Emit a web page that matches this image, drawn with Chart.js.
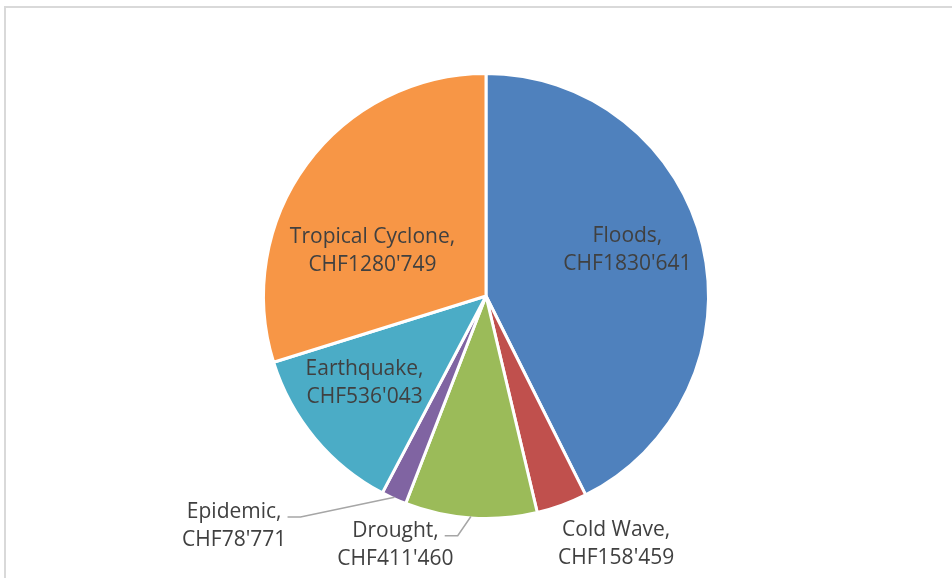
<!DOCTYPE html>
<html>
<head>
<meta charset="utf-8">
<script src="https://cdn.jsdelivr.net/npm/chart.js@4/dist/chart.umd.min.js"></script>
<style>
  html, body { margin: 0; padding: 0; background: #ffffff; }
  #wrap { position: relative; width: 952px; height: 578px; overflow: hidden; }
  #frame { position: absolute; left: 4px; top: 6px; width: 1000px; height: 700px;
           border-left: 2px solid #d9d9d9; border-top: 2px solid #d9d9d9; box-sizing: border-box; }
  canvas { position: absolute; left: 0; top: 0; }
</style>
</head>
<body>
<div id="wrap">
  <div id="frame"></div>
  <canvas id="c" width="952" height="578"></canvas>
</div>
<script>
// ---- data ----
const categories = ['Floods', 'Cold Wave', 'Drought', 'Epidemic', 'Earthquake', 'Tropical Cyclone'];
const values = [1830641, 158459, 411460, 78771, 536043, 1280749];
const currency = 'CHF';

// ---- style / layout ----
const sliceColors = ['#4F81BD', '#C0504D', '#9BBB59', '#8064A2', '#4BACC6', '#F79646'];
// label placement: angle clockwise from 12 o'clock (deg) and distance as fraction of radius
const labelAngle = [72, 152.3, 200, 227.6, 234.5, 291.5];
const labelDist = [0.673, 1.267, 1.198, 1.543, 0.675, 0.552];
const labelLeader = [false, false, true, true, false, false];

function fmt(v) {
  const th = Math.floor(v / 1000);
  const rest = String(v % 1000).padStart(3, '0');
  return currency + th + "'" + rest;
}

const labelPlugin = {
  id: 'pieLabels',
  afterDatasetsDraw(chart) {
    const ctx = chart.ctx;
    const meta = chart.getDatasetMeta(0);
    ctx.save();
    ctx.font = '21px "Open Sans"';
    ctx.fillStyle = '#404040';
    ctx.textAlign = 'center';
    ctx.textBaseline = 'middle';
    meta.data.forEach((arc, i) => {
      const p = arc.getProps(['x', 'y', 'startAngle', 'endAngle', 'outerRadius'], true);
      const r = p.outerRadius - 1.5;
      const th = labelAngle[i] * Math.PI / 180;
      const lx = p.x + Math.sin(th) * r * labelDist[i];
      const ly = p.y - Math.cos(th) * r * labelDist[i];
      const l1 = categories[i] + ',';
      const l2 = fmt(values[i]);
      ctx.fillText(l1, lx, ly - 14);
      ctx.fillText(l2, lx, ly + 14);
      if (labelLeader[i]) {
        const w1 = ctx.measureText(l1).width;
        const ex = lx + w1 / 2 + 6;
        const ey = ly - 9;
        const mid = (p.startAngle + p.endAngle) / 2;
        const sx = p.x + Math.cos(mid) * r;
        const sy = p.y + Math.sin(mid) * r;
        ctx.save();
        ctx.strokeStyle = '#a6a6a6';
        ctx.lineWidth = 1.5;
        ctx.beginPath();
        ctx.moveTo(sx, sy);
        ctx.lineTo(ex + 13, ey);
        ctx.lineTo(ex, ey);
        ctx.stroke();
        ctx.restore();
      }
    });
    ctx.restore();
  }
};

new Chart(document.getElementById('c'), {
  type: 'pie',
  data: {
    labels: categories,
    datasets: [{
      data: values,
      backgroundColor: sliceColors,
      borderColor: '#ffffff',
      borderWidth: 3
    }]
  },
  options: {
    responsive: false,
    animation: false,
    events: [],
    layout: { padding: { top: 72, bottom: 58, left: 200, right: 180 } },
    plugins: {
      legend: { display: false },
      tooltip: { enabled: false }
    }
  },
  plugins: [labelPlugin]
});
</script>
</body>
</html>
